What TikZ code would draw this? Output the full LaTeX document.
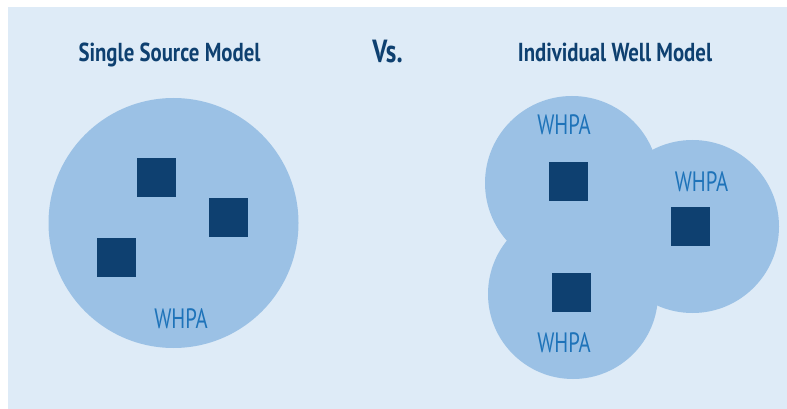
\documentclass[tikz,border=0pt]{standalone}
\usepackage{fontspec}
\setmainfont{PT Sans}
\usepackage{graphicx}
\definecolor{panel}{RGB}{222,235,247}
\definecolor{zone}{RGB}{155,193,229}
\definecolor{well}{RGB}{14,64,112}
\definecolor{label}{RGB}{30,115,185}
\definecolor{heading}{RGB}{14,64,112}
\tikzset{
  zonecircle/.style={circle, fill=zone, inner sep=0pt, minimum size=#1},
  wellbox/.style={rectangle, fill=well, inner sep=0pt, minimum size=39pt},
  whpa/.style={text=label, inner sep=0pt, anchor=base, font=\fontsize{28}{28}\selectfont},
  title/.style={text=heading, inner sep=0pt, anchor=base, font=\bfseries\fontsize{26}{26}\selectfont},
}
\newcommand{\narrow}[2]{\scalebox{#1}[1]{#2}}
\begin{document}
\begin{tikzpicture}[x=1pt,y=-1pt]
  \useasboundingbox (0,0) rectangle (787,409);
  \fill[white] (0,0) rectangle (787,409);
  \fill[panel] (8,7) rectangle (787,409);

  % headings
  \node[title] (tsingle) at (169.5,62) {\narrow{0.80}{Single Source Model}};
  \node[title, font=\bfseries\fontsize{32}{32}\selectfont] (tvs) at (387.5,63) {\narrow{0.78}{Vs.}};
  \node[title] (tindiv) at (615,62) {\narrow{0.80}{Individual Well Model}};

  % single source: one protection area around all wells
  \node[zonecircle=250pt] (big) at (173.5,223) {};
  \node[wellbox] (s1) at (156.5,177.5) {};
  \node[wellbox] (s2) at (228.5,217.5) {};
  \node[wellbox] (s3) at (116.5,257.5) {};
  \node[whpa] (lbig) at (181,328) {\narrow{0.74}{WHPA}};

  % individual wells: one protection area per well
  \node[zonecircle=174pt] (za) at (572,183) {};
  \node[zonecircle=173pt] (zb) at (692.5,226.5) {};
  \node[zonecircle=170pt] (zc) at (573,294) {};
  \node[wellbox] (wa) at (568.5,181.5) {};
  \node[wellbox] (wb) at (690.5,226.5) {};
  \node[wellbox] (wc) at (571.5,292.5) {};
  \node[whpa] (la) at (564,135) {\narrow{0.74}{WHPA}};
  \node[whpa] (lb) at (701.5,191) {\narrow{0.74}{WHPA}};
  \node[whpa] (lc) at (564,352) {\narrow{0.74}{WHPA}};
\end{tikzpicture}
\end{document}
